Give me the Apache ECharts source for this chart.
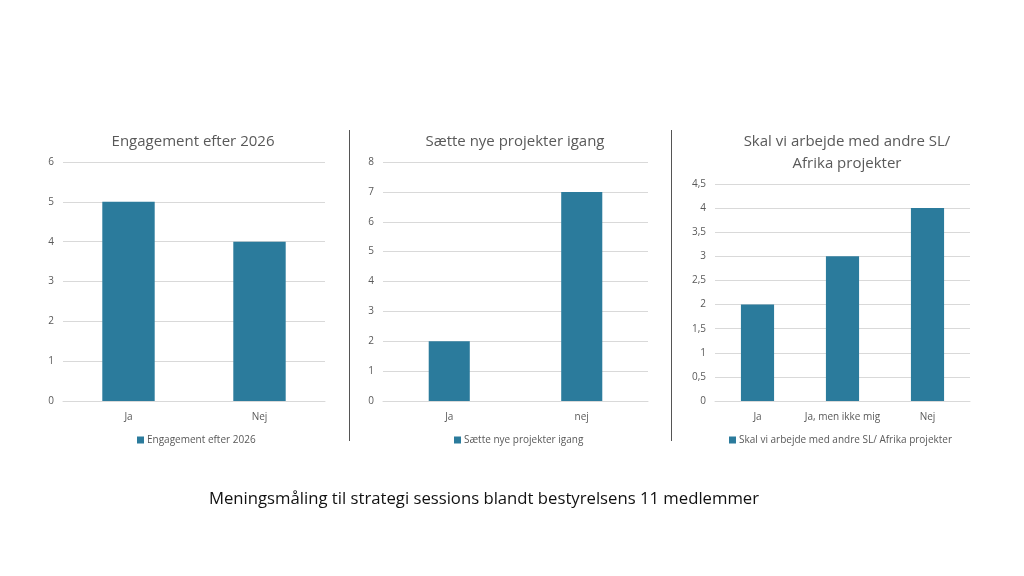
<!DOCTYPE html>
<html>
<head>
<meta charset="utf-8">
<script src="https://cdn.jsdelivr.net/npm/echarts@6/dist/echarts.min.js"></script>
<style>
html,body{margin:0;padding:0;background:#fff;}
#c{width:1024px;height:576px;}
</style>
</head>
<body>
<div id="c"></div>
<script>
// ---- data ----
const titles = ["Engagement efter 2026", "Sætte nye projekter igang", "Skal vi arbejde med andre SL/\nAfrika projekter"];
const seriesNames = ["Engagement efter 2026", "Sætte nye projekter igang", "Skal vi arbejde med andre SL/ Afrika projekter"];
const categories1 = ["Ja", "Nej"];
const values1 = [5, 4];
const categories2 = ["Ja", "nej"];
const values2 = [2, 7];
const categories3 = ["Ja", "Ja, men ikke mig", "Nej"];
const values3 = [2, 3, 4];
const yMax = [6, 8, 4.5];
const yInterval = [1, 1, 0.5];
const caption = "Meningsmåling til strategi sessions blandt bestyrelsens 11 medlemmer";

const FONT = "Open Sans";
const BAR = "#2b7b9c";
const GRAY = "#595959";

const grids = [
  {left: 63, width: 262, top: 162, height: 239},
  {left: 383, width: 265, top: 162, height: 239},
  {left: 715, width: 255, top: 184, height: 217}
];
const titleCenters = [188, 510, 842];
const legendLefts = [132, 449, 724];
const cats = [categories1, categories2, categories3];
const vals = [values1, values2, values3];
const barWidths = ['40%', '31%', '39%'];

const option = {
  backgroundColor: '#fff',
  animation: false,
  title: titles.map((t, i) => ({
    text: t, left: titleCenters[i], top: 126, textAlign: 'center',
    textStyle: {fontFamily: FONT, fontSize: 15, fontWeight: 'normal', color: GRAY, lineHeight: 22}
  })).concat([{
    text: caption, left: 479, top: 486, textAlign: 'center',
    textStyle: {fontFamily: FONT, fontSize: 16.7, fontWeight: 'normal', color: '#111'}
  }]),
  legend: seriesNames.map((n, i) => ({
    data: [n], left: legendLefts[i], top: 430, icon: 'rect', itemWidth: 7, itemHeight: 7, itemGap: 4,
    textStyle: {fontFamily: FONT, fontSize: 10, color: GRAY, padding: [0, 0, 0, -2]}
  })),
  grid: grids.map(g => Object.assign({containLabel: false}, g)),
  xAxis: cats.map((c, i) => ({
    type: 'category', gridIndex: i, data: c,
    axisLine: {lineStyle: {color: '#d9d9d9'}}, axisTick: {show: false},
    axisLabel: {fontFamily: FONT, fontSize: 10, color: GRAY, margin: 11, interval: 0}
  })),
  yAxis: yMax.map((m, i) => ({
    type: 'value', gridIndex: i, min: 0, max: m, interval: yInterval[i],
    axisLine: {show: false}, axisTick: {show: false},
    splitLine: {lineStyle: {color: '#d9d9d9'}},
    axisLabel: {fontFamily: FONT, fontSize: 10, color: GRAY, margin: 9,
      formatter: v => String(v).replace('.', ',')}
  })),
  series: vals.map((v, i) => ({
    type: 'bar', name: seriesNames[i], xAxisIndex: i, yAxisIndex: i, data: v,
    barWidth: barWidths[i], itemStyle: {color: BAR}
  })),
  graphic: [
    {type: 'line', shape: {x1: 349.5, y1: 130, x2: 349.5, y2: 441}, style: {stroke: '#555', lineWidth: 1}},
    {type: 'line', shape: {x1: 671.5, y1: 130, x2: 671.5, y2: 441}, style: {stroke: '#555', lineWidth: 1}}
  ]
};
echarts.init(document.getElementById('c')).setOption(option);
</script>
</body>
</html>
